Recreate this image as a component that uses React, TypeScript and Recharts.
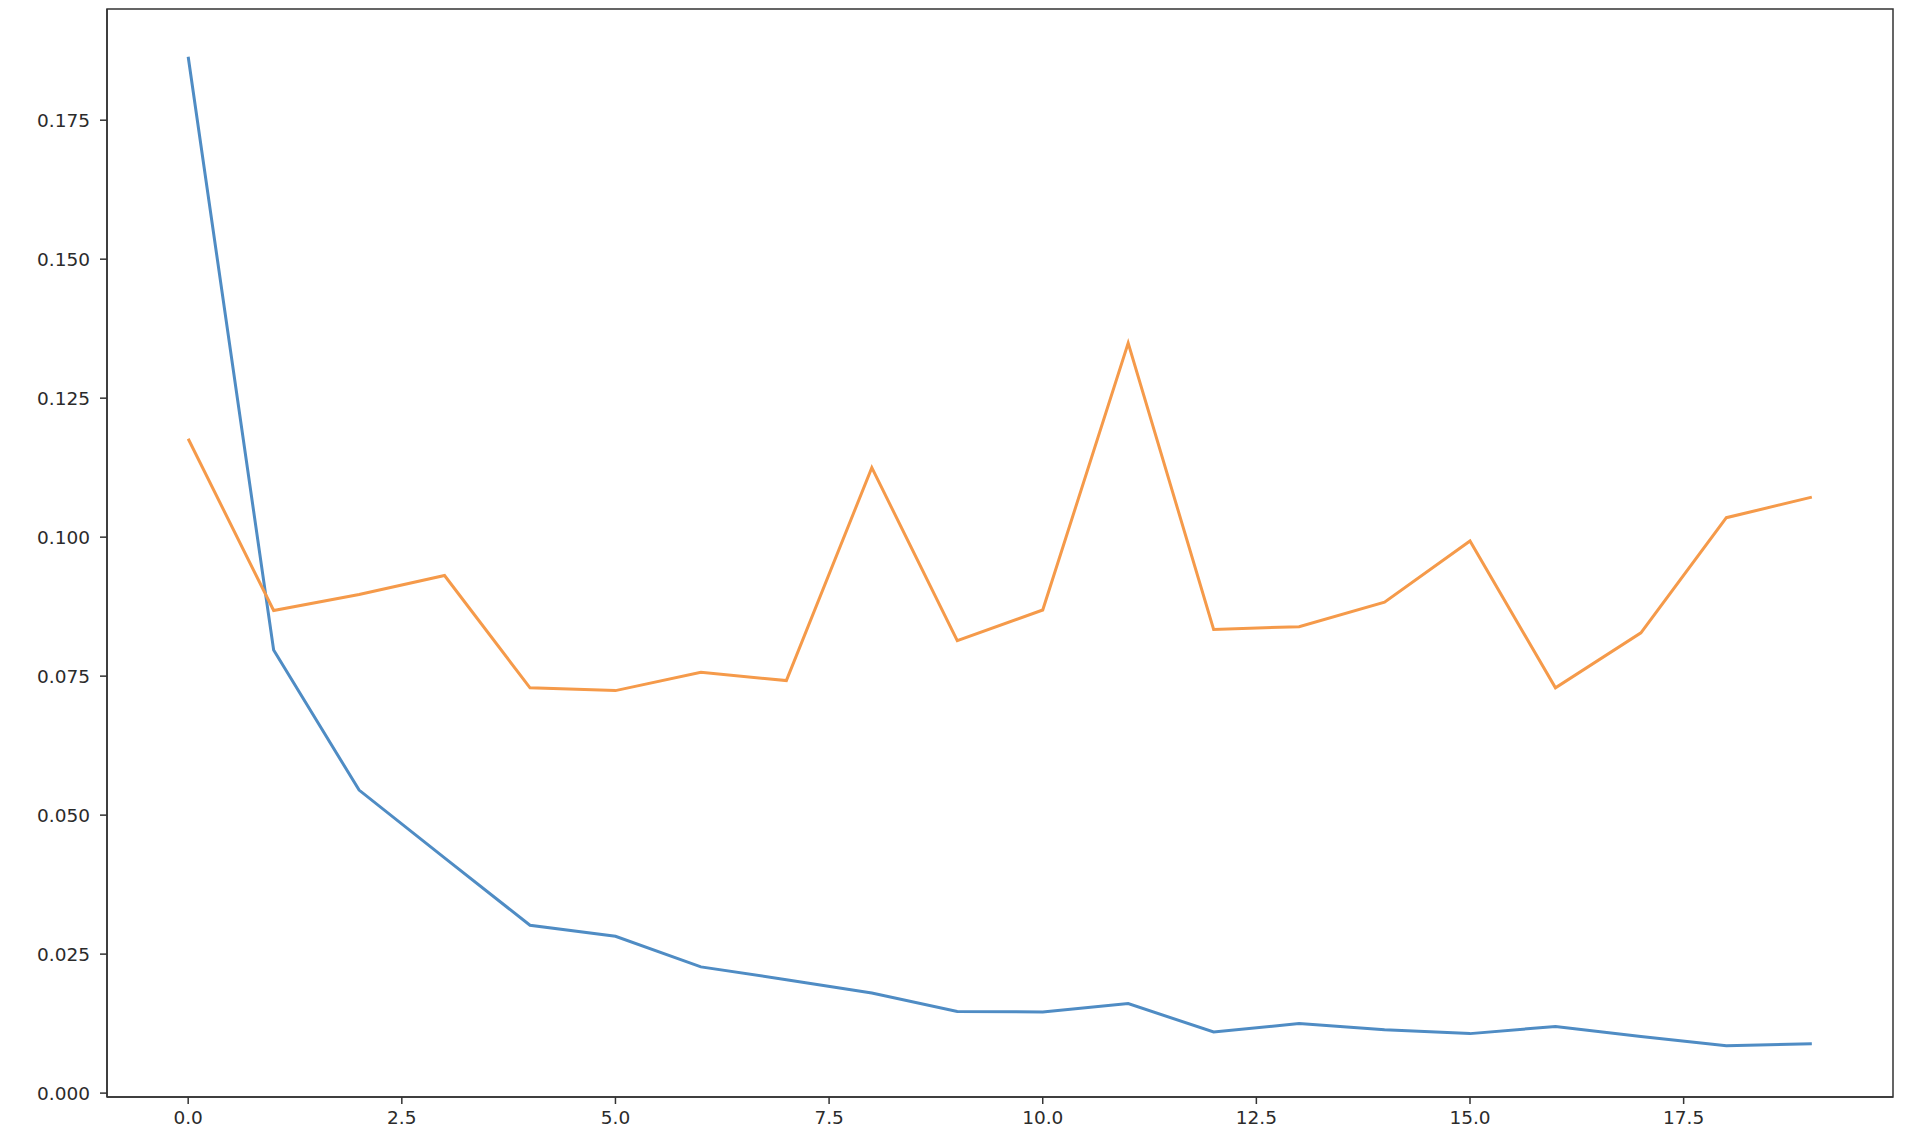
import React from "react";
import {
  LineChart,
  Line,
  XAxis,
  YAxis,
  ReferenceArea,
} from "recharts";

// epoch index 0..19
const epochs = [0, 1, 2, 3, 4, 5, 6, 7, 8, 9, 10, 11, 12, 13, 14, 15, 16, 17, 18, 19];

const trainLoss = [
  0.1864, 0.0797, 0.0545, 0.0423, 0.0302, 0.0282, 0.0227, 0.0204, 0.018, 0.0147,
  0.0146, 0.0161, 0.011, 0.0125, 0.0114, 0.0107, 0.012, 0.0102, 0.0085, 0.0089,
];

const valLoss = [
  0.1177, 0.0868, 0.0897, 0.0931, 0.0729, 0.0724, 0.0757, 0.0742, 0.1125, 0.0814,
  0.0869, 0.1349, 0.0834, 0.0839, 0.0883, 0.0993, 0.0729, 0.0828, 0.1035, 0.1072,
];

const xTicks = [0, 2.5, 5, 7.5, 10, 12.5, 15, 17.5];
const yTicks = [0, 0.025, 0.05, 0.075, 0.1, 0.125, 0.15, 0.175];

const X_DOMAIN: [number, number] = [-0.95, 19.95];
const Y_DOMAIN: [number, number] = [-0.0007, 0.195];

const data = epochs.map((e, i) => ({ epoch: e, train: trainLoss[i], val: valLoss[i] }));

const tickStyle = { fontFamily: "DejaVu Sans", fontSize: 18.5, fill: "#2b2b2b" };

export default function App() {
  return (
    <div style={{ background: "#fff", width: 1910, height: 1136 }}>
      <LineChart
        width={1910}
        height={1136}
        data={data}
        margin={{ top: 1, right: 25, left: 0, bottom: 0 }}
      >
        <XAxis
          dataKey="epoch"
          type="number"
          domain={X_DOMAIN}
          ticks={xTicks}
          allowDataOverflow
          tickFormatter={(v: number) => v.toFixed(1)}
          tick={tickStyle}
          tickSize={7}
          tickMargin={7}
          height={47}
          stroke="#333"
          strokeWidth={1.5}
          interval={0}
        />
        <YAxis
          type="number"
          domain={Y_DOMAIN}
          ticks={yTicks}
          allowDataOverflow
          tickFormatter={(v: number) => v.toFixed(3)}
          tick={tickStyle}
          tickSize={7}
          tickMargin={10}
          width={99}
          stroke="#333"
          strokeWidth={1.5}
          interval={0}
        />
        <ReferenceArea
          x1={X_DOMAIN[0]}
          x2={X_DOMAIN[1]}
          y1={Y_DOMAIN[0]}
          y2={Y_DOMAIN[1]}
          fill="none"
          stroke="#333"
          strokeWidth={1.5}
          ifOverflow="visible"
        />
        <Line
          type="linear"
          dataKey="train"
          stroke="#4f8cc4"
          strokeWidth={3}
          dot={false}
          activeDot={false}
          isAnimationActive={false}
        />
        <Line
          type="linear"
          dataKey="val"
          stroke="#f59a4a"
          strokeWidth={3}
          dot={false}
          activeDot={false}
          isAnimationActive={false}
        />
      </LineChart>
    </div>
  );
}
